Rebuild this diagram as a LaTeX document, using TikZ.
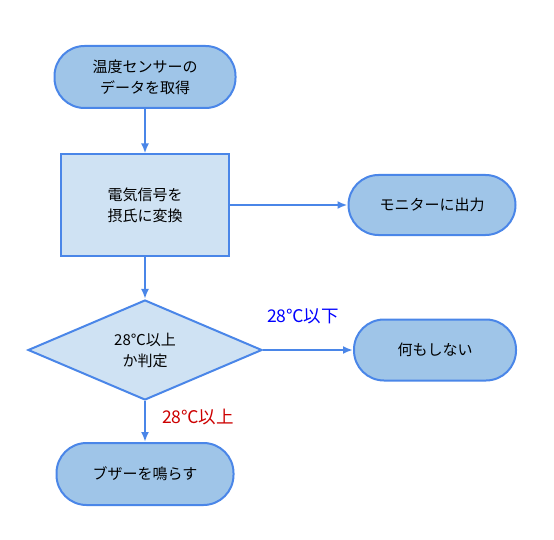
\documentclass[tikz,border=0pt]{standalone}
\usepackage{fontspec}
\setmainfont{Noto Sans CJK JP}
\usetikzlibrary{shapes.geometric,arrows.meta}
\definecolor{edgeblue}{HTML}{4A86E8}
\definecolor{termfill}{HTML}{9FC5E8}
\definecolor{procfill}{HTML}{CFE2F3}
\definecolor{yesred}{HTML}{CC0000}
\tikzset{
  termbox/.style={draw=edgeblue, fill=termfill, line width=2pt, rounded corners=30pt,
    minimum height=62pt, inner sep=0pt, align=center, font=\fontsize{15}{21}\selectfont},
  procbox/.style={draw=edgeblue, fill=procfill, line width=2pt, minimum width=168pt,
    minimum height=101pt, inner sep=0pt, align=center, font=\fontsize{15}{21}\selectfont},
  decbox/.style={draw=edgeblue, fill=procfill, line width=2pt, diamond, minimum width=234pt,
    minimum height=100pt, inner sep=0pt, align=center, font=\fontsize{15}{21}\selectfont},
  flow/.style={draw=edgeblue, line width=2pt, -{Latex[length=10pt,width=8pt]}},
  branch/.style={font=\fontsize{17.5}{20}\selectfont}
}

\begin{document}
\begin{tikzpicture}[x=1pt, y=-1pt]
  \useasboundingbox (0,0) rectangle (554,540);
  \node[termbox, minimum width=181pt] (start) at (145,77) {温度センサーの\\データを取得};
  \node[procbox] (conv) at (145,205) {電気信号を\\摂氏に変換};
  \node[termbox, minimum width=167pt, minimum height=60pt] (mon) at (432,205) {モニターに出力};
  \node[decbox] (judge) at (145,350) {28℃以上\\か判定};
  \node[termbox, minimum width=162pt, minimum height=61pt] (none) at (435,350) {何もしない};
  \node[termbox, minimum width=177pt] (buzz) at (145,474) {ブザーを鳴らす};

  % connectors
  \draw[flow] (start) -- (conv);
  \draw[flow] (conv) -- (mon);
  \draw[flow] (conv) -- (judge);
  \draw[flow] (judge) -- (none);
  \draw[flow] (judge) -- (buzz);

  \node[branch, text=blue] (lower) at (303,316) {28℃以下};
  \node[branch, text=yesred] (upper) at (198,417) {28℃以上};
\end{tikzpicture}
\end{document}
